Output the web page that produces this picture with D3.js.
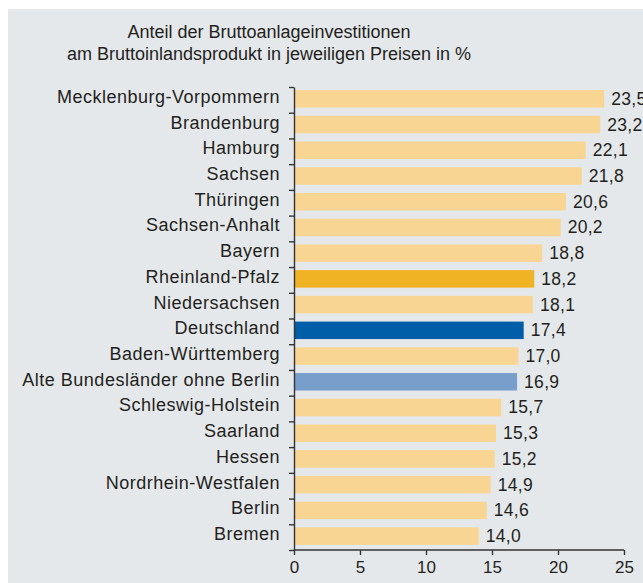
<!DOCTYPE html>
<html>
<head>
<meta charset="utf-8">
<script src="https://cdn.jsdelivr.net/npm/d3@7"></script>
<style>
  body { margin: 0; background: #fff; }
  svg { display: block; font-family: "Liberation Sans", Arial, sans-serif; }
  .axis path, .axis line { stroke: #333; stroke-width: 1.4; }
  .axis text { fill: #231f20; font-size: 17px; font-family: "Liberation Sans", Arial, sans-serif; }
</style>
</head>
<body>
<div id="chart"></div>
<script>
const regions = [
  'Mecklenburg-Vorpommern', 'Brandenburg', 'Hamburg', 'Sachsen', 'Thüringen',
  'Sachsen-Anhalt', 'Bayern', 'Rheinland-Pfalz', 'Niedersachsen', 'Deutschland',
  'Baden-Württemberg', 'Alte Bundesländer ohne Berlin', 'Schleswig-Holstein',
  'Saarland', 'Hessen', 'Nordrhein-Westfalen', 'Berlin', 'Bremen'
];
const shares = [23.5, 23.2, 22.1, 21.8, 20.6, 20.2, 18.8, 18.2, 18.1, 17.4,
                17.0, 16.9, 15.7, 15.3, 15.2, 14.9, 14.6, 14.0];
const xTicks = [0, 5, 10, 15, 20, 25];
const titleLines = ['Anteil der Bruttoanlageinvestitionen',
                    'am Bruttoinlandsprodukt in jeweiligen Preisen in %'];

const rows = regions.map((name, i) => ({ name, value: shares[i] }));

// Sonderfarben für hervorgehobene Balken
const colorOf = name => ({
  'Rheinland-Pfalz': '#f0b323',
  'Deutschland': '#005ea8',
  'Alte Bundesländer ohne Berlin': '#789fcc'
}[name] || '#f8d592');

const W = 643, H = 583;
const svg = d3.select('#chart').append('svg')
  .attr('width', W).attr('height', H);

svg.append('rect')
  .attr('x', 8).attr('y', 9)
  .attr('width', W - 8).attr('height', H - 9)
  .attr('fill', '#e5e8eb');

svg.append('text')
  .attr('x', 269).attr('y', 38)
  .attr('text-anchor', 'middle')
  .attr('fill', '#231f20')
  .attr('font-size', 18)
  .selectAll('tspan')
  .data(titleLines)
  .join('tspan')
    .attr('x', 269)
    .attr('dy', (d, i) => i ? 22 : 0)
    .text(d => d);

const x = d3.scaleLinear().domain([0, 25]).range([294, 624]);
const y = d3.scaleBand().domain(regions).range([87, 550]);
const bounds = d3.scaleLinear().domain([0, regions.length]).range([87, 550]);
const step = y.step();

svg.append('g')
  .selectAll('rect')
  .data(rows)
  .join('rect')
    .attr('x', x(0))
    .attr('y', d => y(d.name) + step * 0.12)
    .attr('width', d => x(d.value) - x(0))
    .attr('height', step * 0.68)
    .attr('fill', d => colorOf(d.name));

svg.append('g')
  .selectAll('text')
  .data(rows)
  .join('text')
    .attr('x', x(0) - 14)
    .attr('y', d => y(d.name) + step * 0.46 + 4)
    .attr('text-anchor', 'end')
    .attr('fill', '#231f20')
    .attr('font-size', 18)
    .attr('letter-spacing', 0.5)
    .text(d => d.name);

const fmt = d3.format('.1f');
svg.append('g')
  .selectAll('text')
  .data(rows)
  .join('text')
    .attr('x', d => x(d.value) + 7)
    .attr('y', d => y(d.name) + step * 0.46 + 6)
    .attr('fill', '#231f20')
    .attr('font-size', 17.5)
    .attr('letter-spacing', 0.3)
    .text(d => fmt(d.value).replace('.', ','));

// y-Achse mit Strichen zwischen den Kategorien
svg.append('g')
  .attr('class', 'axis')
  .attr('transform', `translate(${x(0)},0)`)
  .call(d3.axisLeft(bounds).tickValues(d3.range(regions.length + 1))
    .tickFormat('').tickSize(5).tickSizeOuter(0));

svg.append('g')
  .attr('class', 'axis')
  .attr('transform', 'translate(0,550)')
  .call(d3.axisBottom(x).tickValues(xTicks).tickSize(5).tickSizeOuter(0).tickPadding(6))
  .call(g => g.select('.domain').attr('d', `M${x(0)},0H${x(25)}`));
</script>
</body>
</html>
